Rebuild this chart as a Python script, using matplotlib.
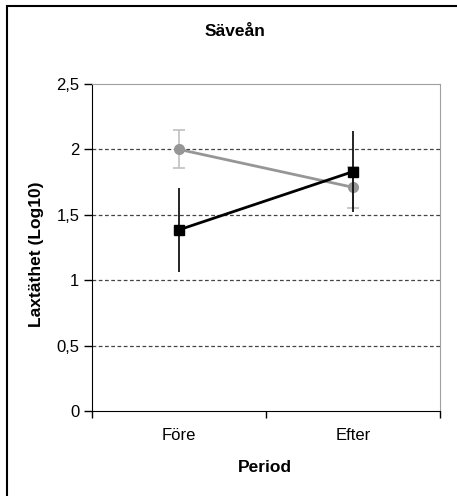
import matplotlib.pyplot as plt
import matplotlib.patches as patches
import numpy as np

plt.rcParams['font.family'] = ['Liberation Sans', 'DejaVu Sans']

# data
perioder = ["Före", "Efter"]
svart_medel = [1.385, 1.83]
svart_fel = [0.32, 0.31]
gra_medel = [2.0, 1.71]
gra_fel = [0.145, 0.155]
yticks = [0, 0.5, 1, 1.5, 2, 2.5]
ytick_labels = ["0", "0,5", "1", "1,5", "2", "2,5"]

W, H = 457, 496
fig = plt.figure(figsize=(W / 100, H / 100), dpi=100)
ax = fig.add_axes([0.2013, 0.1714, 0.7615, 0.6593])

x = np.arange(len(perioder))

# gra serie
ax.errorbar(x, gra_medel, yerr=gra_fel, color='#969696', ecolor='#c0c0c0',
            marker='o', markersize=7, linewidth=2, elinewidth=1.2,
            capsize=4, capthick=1.2, zorder=3)
# svart serie
ax.errorbar(x, svart_medel, yerr=svart_fel, color='black', ecolor='black',
            marker='s', markersize=7, linewidth=2, elinewidth=1.2,
            capsize=0, zorder=4)

ax.set_xlim(-0.5, 1.5)
ax.set_ylim(0, 2.5)
ax.set_yticks(yticks)
ax.set_yticklabels(ytick_labels, fontsize=12)
ax.set_xticks(x)
ax.set_xticklabels(perioder, fontsize=12)
ax.set_xticks([-0.5, 0.5, 1.5], minor=True)
ax.tick_params(axis='x', which='major', length=0, pad=12)
ax.tick_params(axis='x', which='minor', length=5, width=1, direction='out')
ax.tick_params(axis='y', length=6, width=1, direction='out', pad=3)

for yv in yticks[1:-1]:
    ax.axhline(yv, color='#444444', linestyle=(0, (3, 2)), linewidth=0.9, zorder=1)

ax.spines['left'].set_color('black')
ax.spines['bottom'].set_color('black')
ax.spines['top'].set_color('#a0a0a0')
ax.spines['right'].set_color('#a0a0a0')

# texter
fig.text(235 / W, 1 - 32 / H, "Säveån", fontsize=12.5, fontweight='bold', ha='center', va='center')
fig.text(265 / W, 1 - 467 / H, "Period", fontsize=12.5, fontweight='bold', ha='center', va='center')
fig.text(37 / W, 1 - 254 / H, "Laxtäthet (Log10)", fontsize=12.5, fontweight='bold',
         ha='center', va='center', rotation=90)

# ram runt diagrammet
ram = patches.Rectangle((0.016, -0.05), 1.1, 1.038, transform=fig.transFigure,
                        fill=False, edgecolor='black', linewidth=1.5)
fig.patches.append(ram)

plt.savefig("out.png", dpi=100)
